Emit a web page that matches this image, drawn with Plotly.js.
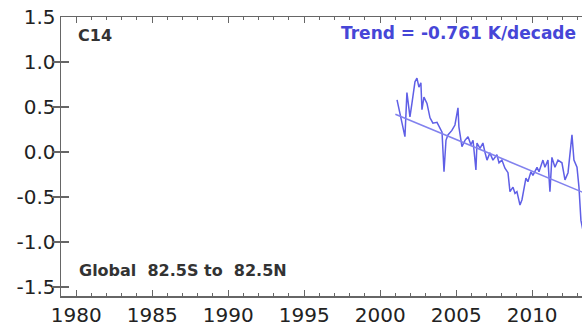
<!DOCTYPE html>
<html>
<head>
<meta charset="utf-8">
<script src="https://cdn.plot.ly/plotly-3.0.1.min.js"></script>
<style>
html,body{margin:0;padding:0;overflow:hidden;background:#fff;}
#chart{width:620px;height:327px;}
</style>
</head>
<body>
<div id="chart"></div>
<script>
// Monthly-ish anomaly series (year, K)
var years = [2001.11,2001.30,2001.50,2001.63,2001.76,2001.96,2002.09,2002.29,2002.42,2002.55,
 2002.68,2002.75,2002.88,2003.08,2003.28,2003.47,2003.74,2003.87,2004.07,2004.20,
 2004.33,2004.46,2004.72,2004.92,2005.12,2005.18,2005.38,2005.58,2005.78,2005.97,
 2006.11,2006.30,2006.37,2006.57,2006.76,2006.89,2007.03,2007.22,2007.42,2007.68,
 2007.82,2008.01,2008.21,2008.41,2008.54,2008.74,2008.87,2009.00,2009.20,2009.33,
 2009.46,2009.59,2009.72,2009.92,2010.05,2010.32,2010.45,2010.71,2010.84,2011.04,
 2011.17,2011.30,2011.50,2011.70,2011.96,2012.16,2012.36,2012.55,2012.62,2012.75,
 2012.95,2013.08,2013.21,2013.34];
var anomalies = [0.58,0.43,0.30,0.17,0.66,0.39,0.54,0.78,0.82,0.72,
 0.77,0.47,0.61,0.54,0.38,0.32,0.33,0.28,0.22,-0.22,
 0.13,0.19,0.24,0.30,0.49,0.28,0.06,0.13,0.17,0.08,
 0.13,-0.20,0.10,0.04,0.10,0.00,-0.09,-0.01,-0.09,-0.03,
 -0.12,-0.09,-0.18,-0.23,-0.44,-0.39,-0.46,-0.44,-0.59,-0.53,
 -0.39,-0.29,-0.33,-0.22,-0.26,-0.17,-0.22,-0.09,-0.17,-0.09,
 -0.44,-0.06,-0.17,-0.09,-0.12,-0.31,-0.23,0.06,0.19,-0.09,
 -0.17,-0.39,-0.76,-0.87];
var trendYears = [2001.0, 2013.5];
var trendValues = [0.42, -0.46];
var xTicks = [1980,1985,1990,1995,2000,2005,2010,2015];
var xMinorTicks = [1979,1981,1982,1983,1984,1986,1987,1988,1989,1991,1992,1993,1994,
 1996,1997,1998,1999,2001,2002,2003,2004,2006,2007,2008,2009,2011,2012,2013,2014];
var yTicks = [-1.5,-1.0,-0.5,0.0,0.5,1.0,1.5];
var yTickText = ['-1.5','-1.0','-0.5','0.0','0.5','1.0','1.5'];
var seriesLabel = 'C14';
var regionLabel = 'Global\u00a0\u00a082.5S to\u00a0\u00a082.5N';
var trendLabel = 'Trend = -0.761 K/decade';

var lineColor = 'rgb(95,95,230)';
var axisColor = '#666';
var xRange = [1979, 2015.78];
var data = [
  {x: years, y: anomalies, type:'scatter', mode:'lines',
   line:{color:lineColor, width:1.5}, hoverinfo:'skip'},
  {x: trendYears, y: trendValues, type:'scatter', mode:'lines', xaxis:'x2',
   line:{color:'rgb(130,130,238)', width:1.6}, hoverinfo:'skip'}
];
var layout = {
  width:620, height:327,
  margin:{l:61, r:0, t:17, b:31, pad:0},
  paper_bgcolor:'#fff', plot_bgcolor:'#fff',
  showlegend:false,
  font:{family:'DejaVu Sans, sans-serif', color:'#222'},
  xaxis:{range:xRange, tickvals:xTicks, ticks:'inside', ticklen:6, tickwidth:1.2,
    tickcolor:axisColor, showline:true, linecolor:axisColor, linewidth:1.5, mirror:'allticks',
    showgrid:false, zeroline:false, tickfont:{size:20, color:'#222'}},
  xaxis2:{range:xRange, overlaying:'x', anchor:'y', tickvals:xMinorTicks, ticks:'inside', ticklen:3, tickwidth:1,
    tickcolor:axisColor, showline:false, mirror:'allticks', showticklabels:false,
    showgrid:false, zeroline:false},
  yaxis:{range:[-1.6, 1.5], tickvals:yTicks, ticktext:yTickText, ticksuffix:'\u2009', ticks:'inside', ticklen:8, tickwidth:1.2,
    tickcolor:axisColor, showline:true, linecolor:axisColor, linewidth:1.5, mirror:'allticks',
    showgrid:false, zeroline:false, tickfont:{size:20, color:'#222'}},
  annotations:[
    {text:seriesLabel, xref:'paper', yref:'paper', x:0.0268, y:0.932, xanchor:'left', yanchor:'middle',
     showarrow:false, font:{family:'DejaVu Sans', size:16, color:'#333', weight:'bold'}},
    {text:trendLabel, xref:'paper', yref:'paper', x:0.925, y:0.943, xanchor:'right', yanchor:'middle',
     showarrow:false, font:{family:'DejaVu Sans', size:17, color:'rgb(70,70,215)', weight:'bold'}},
    {text:regionLabel, xref:'paper', yref:'paper', x:0.0286, y:0.093, xanchor:'left', yanchor:'middle',
     showarrow:false, font:{family:'DejaVu Sans', size:16, color:'#333', weight:'bold'}}
  ]
};
Plotly.newPlot('chart', data, layout, {staticPlot:true, displayModeBar:false});
</script>
</body>
</html>
